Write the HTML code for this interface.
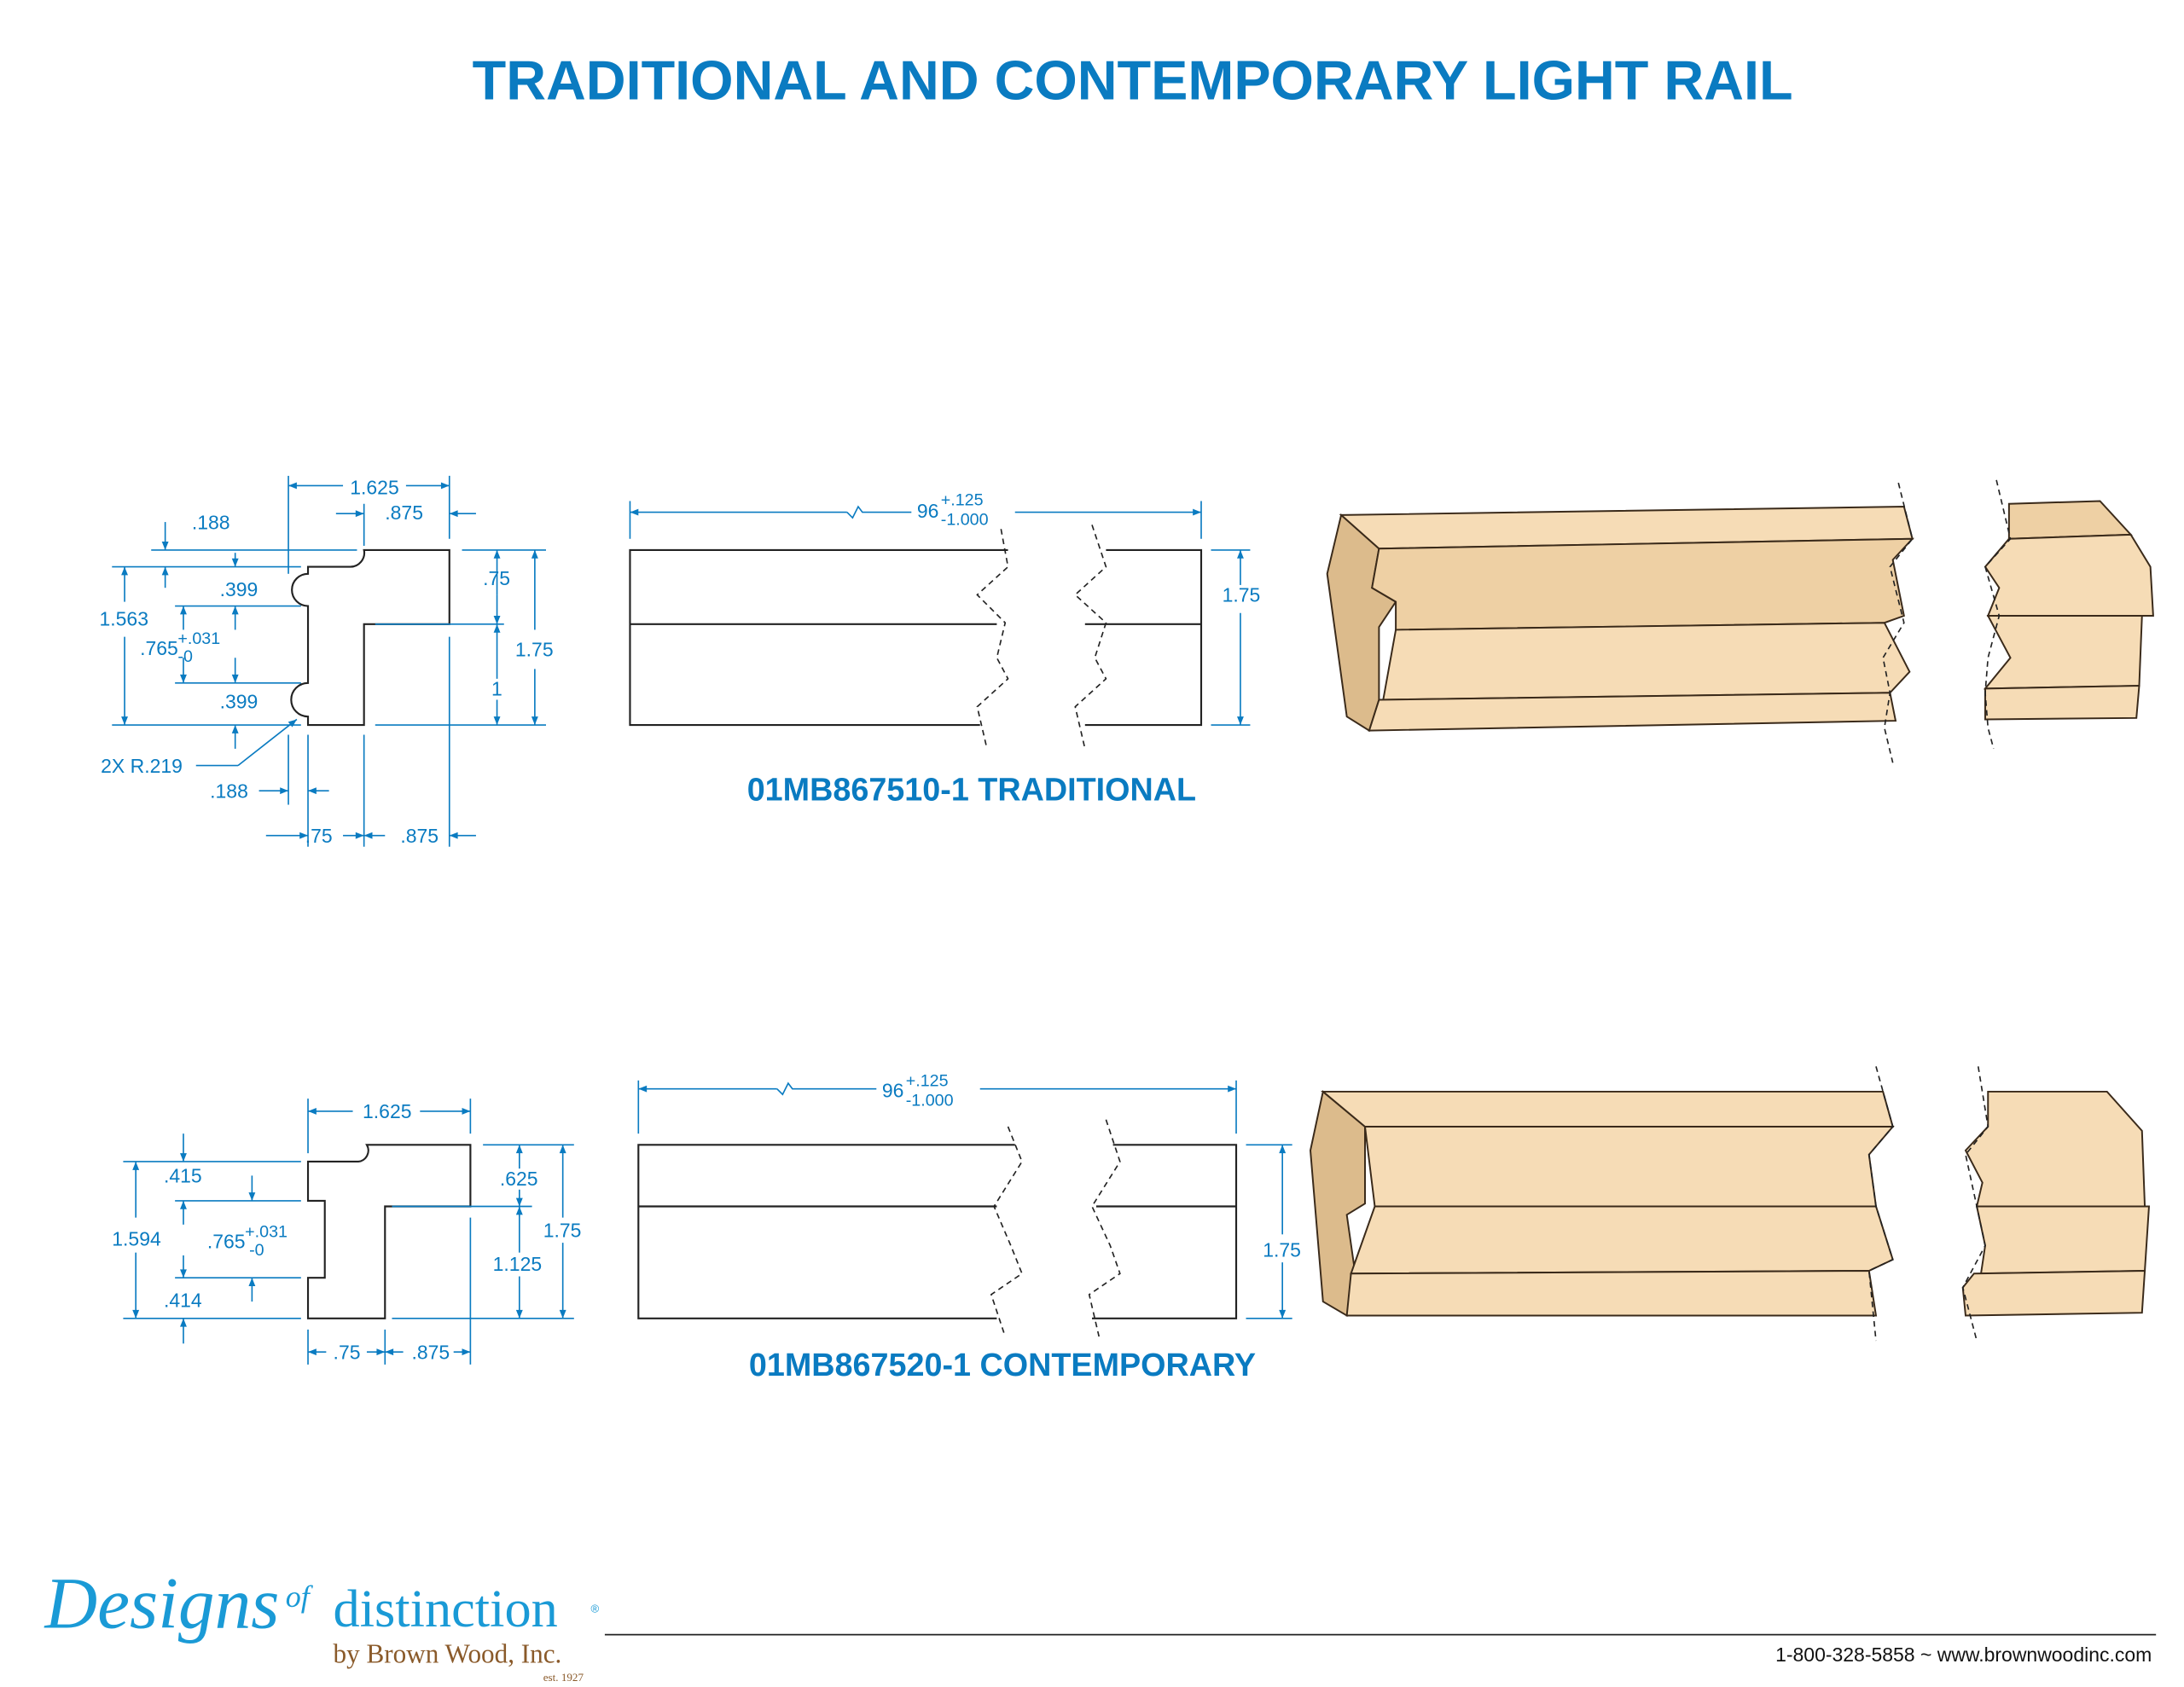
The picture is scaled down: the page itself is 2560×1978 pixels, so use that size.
<!DOCTYPE html>
<html><head><meta charset="utf-8"><style>
html,body{margin:0;padding:0;background:#fff}
svg{display:block}
text{font-family:"Liberation Sans",sans-serif;fill:#0a7bc1}
.d{stroke:#0a7bc1;stroke-width:1;fill:none}
.o{stroke:#222;stroke-width:1.3;fill:none}
.b{stroke:#222;stroke-width:1;fill:none;stroke-dasharray:4 3}
.w{fill:#f6dcb6;stroke:#3a2a1a;stroke-width:1.2}
.w2{fill:#eed0a4;stroke:#3a2a1a;stroke-width:1.2}
.w3{fill:#dcbb8c;stroke:#3a2a1a;stroke-width:1.2}
.t{font-size:14px}
</style></head><body>
<svg width="2560" height="1978" viewBox="0 0 1560 1205.4" preserveAspectRatio="none">
<defs><marker id="a" viewBox="0 0 10 10" refX="10" refY="5" markerWidth="8" markerHeight="6" orient="auto-start-reverse"><path d="M0,1 L10,5 L0,9z" fill="#0a7bc1"/></marker></defs>
<text x="809" y="71" text-anchor="middle" style="font-size:39.5px;font-weight:bold">TRADITIONAL AND CONTEMPORARY LIGHT RAIL</text>

<!-- Traditional profile -->
<path class="o" d="M260,393 L321,393 L321,446 L260,446 L260,518 L220,518 L220,512 A11,11 0 0 1 220,488 L220,433 A11,11 0 0 1 220,410 L220,405 L250,405 A10,10 0 0 0 260,393z"/>
<g class="d">
<line x1="206" y1="340" x2="206" y2="410"/><line x1="321" y1="340" x2="321" y2="385"/>
<line x1="206" y1="347" x2="245" y2="347" marker-start="url(#a)"/><line x1="290" y1="347" x2="321" y2="347" marker-end="url(#a)"/>
<line x1="260" y1="360" x2="260" y2="390"/><line x1="240" y1="367" x2="260" y2="367" marker-end="url(#a)"/><line x1="321" y1="367" x2="340" y2="367" marker-start="url(#a)"/>
<line x1="80" y1="405" x2="215" y2="405"/><line x1="80" y1="518" x2="215" y2="518"/>
<line x1="108" y1="393" x2="255" y2="393"/>
<line x1="118" y1="373" x2="118" y2="393" marker-end="url(#a)"/><line x1="118" y1="405" x2="118" y2="420" marker-start="url(#a)"/>
<line x1="89" y1="430" x2="89" y2="405" marker-end="url(#a)"/><line x1="89" y1="455" x2="89" y2="518" marker-end="url(#a)"/>
<line x1="168" y1="395" x2="168" y2="405" marker-end="url(#a)"/><line x1="168" y1="433" x2="168" y2="450" marker-start="url(#a)"/>
<line x1="125" y1="433" x2="215" y2="433"/><line x1="125" y1="488" x2="215" y2="488"/>
<line x1="131" y1="450" x2="131" y2="433" marker-end="url(#a)"/><line x1="131" y1="470" x2="131" y2="488" marker-end="url(#a)"/>
<line x1="168" y1="470" x2="168" y2="488" marker-end="url(#a)"/><line x1="168" y1="518" x2="168" y2="535" marker-start="url(#a)"/>
<line x1="140" y1="547" x2="170" y2="547"/><line x1="170" y1="547" x2="212" y2="514" marker-end="url(#a)"/>
<line x1="330" y1="393" x2="390" y2="393"/><line x1="268" y1="446" x2="360" y2="446"/><line x1="268" y1="518" x2="390" y2="518"/>
<line x1="355" y1="425" x2="355" y2="393" marker-end="url(#a)"/><line x1="355" y1="425" x2="355" y2="446" marker-end="url(#a)"/>
<line x1="355" y1="485" x2="355" y2="446" marker-end="url(#a)"/><line x1="355" y1="500" x2="355" y2="518" marker-end="url(#a)"/>
<line x1="382" y1="450" x2="382" y2="393" marker-end="url(#a)"/><line x1="382" y1="478" x2="382" y2="518" marker-end="url(#a)"/>
<line x1="206" y1="525" x2="206" y2="575"/><line x1="220" y1="525" x2="220" y2="605"/><line x1="260" y1="525" x2="260" y2="605"/><line x1="321" y1="455" x2="321" y2="605"/>
<line x1="185" y1="565" x2="206" y2="565" marker-end="url(#a)"/><line x1="220" y1="565" x2="235" y2="565" marker-start="url(#a)"/>
<line x1="190" y1="597" x2="220" y2="597" marker-end="url(#a)"/><line x1="245" y1="597" x2="260" y2="597" marker-end="url(#a)"/>
<line x1="260" y1="597" x2="275" y2="597" marker-start="url(#a)"/><line x1="321" y1="597" x2="340" y2="597" marker-start="url(#a)"/>
</g>
<g class="t">
<text x="250" y="353">1.625</text><text x="275" y="371">.875</text><text x="137" y="378">.188</text>
<text x="157" y="426">.399</text><text x="71" y="447">1.563</text><text x="100" y="468">.765</text><text x="127" y="460" style="font-size:12px">+.031</text><text x="127" y="473" style="font-size:12px">-0</text>
<text x="157" y="506">.399</text><text x="72" y="552">2X R.219</text><text x="150" y="570">.188</text>
<text x="345" y="418">.75</text><text x="368" y="469">1.75</text><text x="351" y="497">1</text>
<text x="218" y="602">.75</text><text x="286" y="602">.875</text>
</g>

<!-- Traditional side view -->
<g class="d"><line x1="450" y1="358" x2="450" y2="385"/><line x1="858" y1="358" x2="858" y2="385"/>
<line x1="450" y1="366" x2="605" y2="366" marker-start="url(#a)"/><path d="M605,366 l4,4 l4,-8 l3,4 h35"/><line x1="725" y1="366" x2="858" y2="366" marker-end="url(#a)"/>
<line x1="865" y1="393" x2="893" y2="393"/><line x1="865" y1="518" x2="893" y2="518"/>
<line x1="886" y1="418" x2="886" y2="393" marker-end="url(#a)"/><line x1="886" y1="438" x2="886" y2="518" marker-end="url(#a)"/></g>
<text x="655" y="370" class="t">96</text><text x="672" y="361" style="font-size:12px">+.125</text><text x="672" y="375" style="font-size:12px">-1.000</text>
<text x="873" y="430" class="t">1.75</text>
<path class="o" d="M720,393 H450 V518 H700 M450,446 H712 M790,393 H858 V518 H775 M775,446 H858"/>
<path class="b" d="M715,378 L720,405 L698,425 L718,445 L712,470 L720,485 L698,505 L705,535"/>
<path class="b" d="M780,375 L790,405 L768,425 L790,445 L782,470 L790,485 L768,505 L775,535"/>
<text x="694" y="572" text-anchor="middle" style="font-size:23px;font-weight:bold">01MB867510-1 TRADITIONAL</text>

<!-- Traditional 3D -->
<polygon class="w3" points="948,410 958,368 985,392 980,420 997,430 985,448 985,500 978,522 962,512"/>
<polygon class="w" points="958,368 1360,362 1366,385 985,392"/>
<polygon class="w2" points="985,392 1366,385 1352,400 1360,440 1346,445 997,450 997,430 980,420"/>
<polygon class="w" points="997,450 1346,445 1364,480 1350,495 988,500"/>
<polygon class="w" points="985,500 1350,495 1354,515 978,522"/>
<polygon class="w2" points="1435,360 1500,358 1522,382 1435,385"/>
<polygon class="w" points="1435,385 1522,382 1536,405 1538,440 1420,440 1428,420 1418,405"/>
<polygon class="w" points="1420,440 1530,440 1528,490 1418,492 1436,470"/>
<polygon class="w" points="1418,492 1528,490 1526,513 1418,514"/>
<path class="b" d="M1356,345 L1366,385 L1350,405 L1360,445 L1345,470 L1350,495 L1346,520 L1352,545"/>
<path class="b" d="M1426,343 L1436,385 L1418,405 L1428,440 L1420,470 L1418,495 L1420,520 L1424,535"/>

<!-- Contemporary profile -->
<path class="o" d="M262,818 L336,818 L336,862 L275,862 L275,942 L220,942 L220,913 L232,913 L232,858 L220,858 L220,830 L256,830 A8,8 0 0 0 262,818z"/>
<g class="d">
<line x1="220" y1="785" x2="220" y2="824"/><line x1="336" y1="785" x2="336" y2="810"/>
<line x1="220" y1="794" x2="252" y2="794" marker-start="url(#a)"/><line x1="300" y1="794" x2="336" y2="794" marker-end="url(#a)"/>
<line x1="88" y1="830" x2="215" y2="830"/><line x1="88" y1="942" x2="215" y2="942"/>
<line x1="125" y1="858" x2="215" y2="858"/><line x1="125" y1="913" x2="215" y2="913"/>
<line x1="131" y1="810" x2="131" y2="830" marker-end="url(#a)"/><line x1="131" y1="942" x2="131" y2="960" marker-start="url(#a)"/>
<line x1="97" y1="870" x2="97" y2="830" marker-end="url(#a)"/><line x1="97" y1="895" x2="97" y2="942" marker-end="url(#a)"/>
<line x1="180" y1="840" x2="180" y2="858" marker-end="url(#a)"/><line x1="180" y1="930" x2="180" y2="913" marker-end="url(#a)"/>
<line x1="131" y1="875" x2="131" y2="858" marker-end="url(#a)"/><line x1="131" y1="897" x2="131" y2="913" marker-end="url(#a)"/>
<line x1="345" y1="818" x2="410" y2="818"/><line x1="280" y1="862" x2="380" y2="862"/><line x1="280" y1="942" x2="410" y2="942"/>
<line x1="371" y1="835" x2="371" y2="818" marker-end="url(#a)"/><line x1="371" y1="850" x2="371" y2="862" marker-end="url(#a)"/>
<line x1="371" y1="895" x2="371" y2="862" marker-end="url(#a)"/><line x1="371" y1="912" x2="371" y2="942" marker-end="url(#a)"/>
<line x1="402" y1="870" x2="402" y2="818" marker-end="url(#a)"/><line x1="402" y1="888" x2="402" y2="942" marker-end="url(#a)"/>
<line x1="220" y1="950" x2="220" y2="975"/><line x1="275" y1="950" x2="275" y2="975"/><line x1="336" y1="870" x2="336" y2="975"/>
<line x1="220" y1="966" x2="233" y2="966" marker-start="url(#a)"/><line x1="262" y1="966" x2="275" y2="966" marker-end="url(#a)"/>
<line x1="275" y1="966" x2="288" y2="966" marker-start="url(#a)"/><line x1="336" y1="966" x2="324" y2="966" marker-start="url(#a)"/>
</g>
<g class="t">
<text x="259" y="799">1.625</text><text x="117" y="845">.415</text><text x="80" y="890">1.594</text>
<text x="148" y="892">.765</text><text x="175" y="884" style="font-size:12px">+.031</text><text x="178" y="897" style="font-size:12px">-0</text>
<text x="117" y="934">.414</text><text x="357" y="847">.625</text><text x="388" y="884">1.75</text><text x="352" y="908">1.125</text>
<text x="238" y="971">.75</text><text x="294" y="971">.875</text>
</g>

<!-- Contemporary side -->
<g class="d"><line x1="456" y1="772" x2="456" y2="810"/><line x1="883" y1="772" x2="883" y2="810"/>
<line x1="456" y1="778" x2="555" y2="778" marker-start="url(#a)"/><path d="M555,778 l4,4 l4,-8 l3,4 h60"/><line x1="700" y1="778" x2="883" y2="778" marker-end="url(#a)"/>
<line x1="890" y1="818" x2="923" y2="818"/><line x1="890" y1="942" x2="923" y2="942"/>
<line x1="916" y1="882" x2="916" y2="818" marker-end="url(#a)"/><line x1="916" y1="902" x2="916" y2="942" marker-end="url(#a)"/></g>
<text x="630" y="784" class="t">96</text><text x="647" y="776" style="font-size:12px">+.125</text><text x="647" y="790" style="font-size:12px">-1.000</text>
<text x="902" y="898" class="t">1.75</text>
<path class="o" d="M725,818 H456 V942 H712 M456,862 H712 M795,818 H883 V942 H780 M783,862 H883"/>
<path class="b" d="M720,805 L730,830 L710,862 L722,890 L730,910 L708,925 L718,955"/>
<path class="b" d="M790,800 L800,830 L780,862 L793,890 L800,910 L778,925 L785,955"/>
<text x="716" y="983" text-anchor="middle" style="font-size:23px;font-weight:bold">01MB867520-1 CONTEMPORARY</text>

<!-- Contemporary 3D -->
<polygon class="w3" points="936,822 945,780 975,805 975,860 962,868 968,910 962,940 945,930"/>
<polygon class="w" points="945,780 1345,780 1352,805 975,805"/>
<polygon class="w" points="975,805 1352,805 1335,825 1340,862 982,862"/>
<polygon class="w" points="982,862 1340,862 1352,900 1335,908 965,910"/>
<polygon class="w" points="965,910 1335,908 1340,940 962,940"/>
<polygon class="w" points="1420,780 1505,780 1530,808 1532,862 1412,862 1416,845 1404,822 1420,805"/>
<polygon class="w" points="1412,862 1535,862 1532,908 1415,910 1418,890"/>
<polygon class="w" points="1410,910 1532,908 1530,938 1404,940 1402,920"/>
<path class="b" d="M1340,762 L1352,805 L1335,825 L1340,862 L1352,900 L1335,908 L1340,958"/>
<path class="b" d="M1413,762 L1420,805 L1404,825 L1412,862 L1418,890 L1402,920 L1412,958"/>

<!-- Footer -->
<text x="32" y="1163" style="font-family:'Liberation Serif',serif;font-style:italic;font-size:52px;fill:#1a9ad6">Designs</text>
<text x="204" y="1148" style="font-family:'Liberation Serif',serif;font-style:italic;font-size:22px;fill:#1a9ad6">of</text>
<text x="238" y="1162" style="font-family:'Liberation Serif',serif;font-size:38px;fill:#1a9ad6">distinction</text>
<text x="422" y="1152" style="font-size:8px;fill:#1a9ad6">®</text>
<text x="238" y="1188" style="font-family:'Liberation Serif',serif;font-size:19px;fill:#8a5a2a">by Brown Wood, Inc.</text>
<text x="388" y="1201" style="font-family:'Liberation Serif',serif;font-size:8px;fill:#8a5a2a">est. 1927</text>
<line x1="432" y1="1168" x2="1540" y2="1168" stroke="#222" stroke-width="1"/>
<text x="1537" y="1187" text-anchor="end" style="font-size:14px;fill:#111">1-800-328-5858 ~ www.brownwoodinc.com</text>
</svg>
</body></html>
